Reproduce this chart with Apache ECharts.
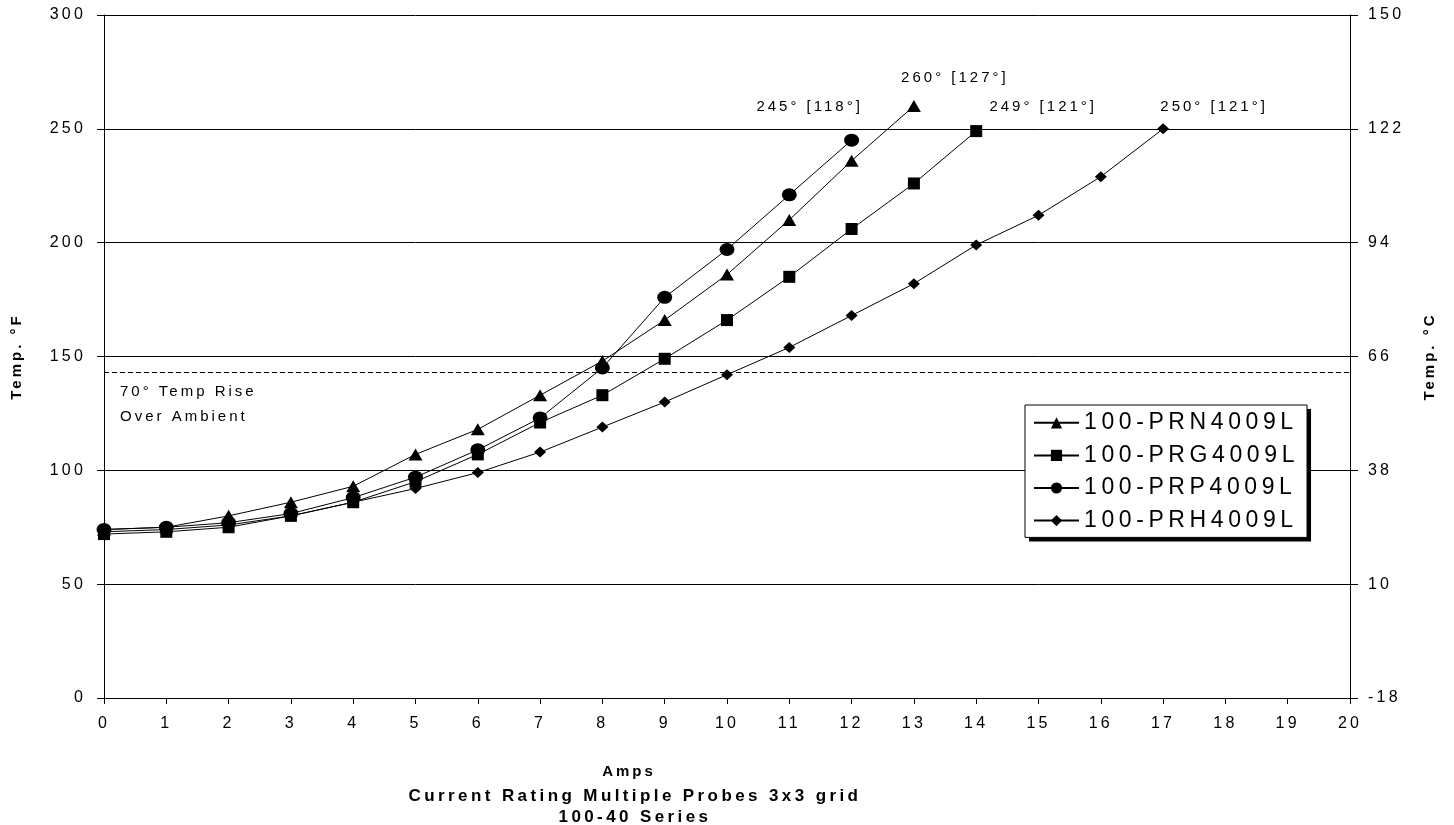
<!DOCTYPE html>
<html lang="en">
<head>
    <meta charset="UTF-8">
    <title>Current Rating Multiple Probes 3x3 grid</title>
    <script src="https://cdn.jsdelivr.net/npm/echarts@6/dist/echarts.min.js"></script>
    <style>html, body { margin: 0; background: #fff; }</style>
</head>
<body>
    <div id="main" style="width: 1454px;height:825px;"></div>
    <script type="text/javascript">
        // x values (Amps)
        var amps = [0, 1, 2, 3, 4, 5, 6, 7, 8, 9, 10, 11, 12, 13, 14, 15, 16, 17];
        // temperatures in °F
        var prn = [74, 75, 80, 86, 93, 107, 118, 133, 148, 166, 186, 210, 236, 260];
        var prg = [72, 73, 75, 80, 86, 95, 107, 121, 133, 149, 166, 185, 206, 226, 249];
        var prp = [74, 75, 77, 81, 88, 97, 109, 123, 145, 176, 197, 221, 245];
        var prh = [73, 74, 76, 80, 86, 92, 99, 108, 119, 130, 142, 154, 168, 182, 199, 212, 229, 250];
        var names = ['100-PRN4009L', '100-PRG4009L', '100-PRP4009L', '100-PRH4009L'];
        // right axis labels (°C) for the °F ticks 0..300
        var celsiusTicks = ['-18', '10', '38', '66', '94', '122', '150'];
        var riseLine = 143;

        var font = 'Liberation Sans, Arial, sans-serif';

        // the original has wide letter spacing on all its text
        var proto = CanvasRenderingContext2D.prototype;
        var fillText0 = proto.fillText, measureText0 = proto.measureText;
        function spacing(ctx) {
            var m = /(\d+(\.\d+)?)px/.exec(ctx.font);
            ctx.letterSpacing = (m ? m[1] * 0.2 : 2) + 'px';
        }
        proto.fillText = function () { spacing(this); return fillText0.apply(this, arguments); };
        proto.measureText = function () { spacing(this); return measureText0.apply(this, arguments); };

        function lastLabel(p) {
            var f = p.value[1];
            return f + '° [' + Math.round((f - 32) * 5 / 9) + '°]';
        }

        function probe(name, vals, symbol, size, offset) {
            var data = vals.map(function (v, i) { return [amps[i], v]; });
            data[data.length - 1] = {
                value: data[data.length - 1],
                label: { show: true, position: 'inside', offset: offset, formatter: lastLabel,
                    color: '#000', fontSize: 15, fontFamily: font }
            };
            return {
                name: name,
                type: 'line',
                data: data,
                symbol: symbol,
                symbolSize: size,
                showAllSymbol: true,
                lineStyle: { color: '#000', width: 1 },
                itemStyle: { color: '#000' },
                label: { show: false },
                emphasis: { disabled: true }
            };
        }

        var myChart = echarts.init(document.getElementById('main'));

        var series = [
            probe(names[0], prn, 'triangle', [14, 12], [41, -28]),
            probe(names[1], prg, 'rect', [12, 12], [67, -24]),
            probe(names[2], prp, 'circle', [15, 13], [-42, -33]),
            probe(names[3], prh, 'diamond', [12, 11], [51, -22])
        ];
        series[0].markLine = {
            silent: true,
            symbol: ['none', 'none'],
            lineStyle: { color: '#000', type: [5, 3], width: 1 },
            label: {
                show: true, position: 'insideStartBottom', distance: [16, 7],
                formatter: '70° Temp Rise\nOver Ambient',
                color: '#000', fontSize: 15, lineHeight: 25, fontFamily: font
            },
            data: [{ yAxis: riseLine }]
        };

        // legend box: first one gives the white fill and the hard shadow,
        // second one only draws the border on top (avoids a shadowed stroke)
        var legendBase = {
            orient: 'vertical',
            left: 1025,
            top: 405,
            itemWidth: 45,
            itemHeight: 14,
            itemGap: 5,
            padding: [4, 8, 3, 8],
            borderRadius: 0,
            textStyle: { fontSize: 23, color: '#000', fontFamily: font },
            data: names
        };
        var legendFill = echarts.util.merge({
            backgroundColor: '#fff',
            borderWidth: 0,
            shadowColor: '#000',
            shadowBlur: 0,
            shadowOffsetX: 4,
            shadowOffsetY: 4
        }, legendBase);
        var legendBorder = echarts.util.merge({
            backgroundColor: 'transparent',
            borderColor: '#000',
            borderWidth: 1,
            itemStyle: { opacity: 0 },
            lineStyle: { opacity: 0 }
        }, legendBase);
        legendBorder.textStyle = { fontSize: 23, color: 'rgba(0,0,0,0)', fontFamily: font };

        var option = {
            animation: false,
            textStyle: { fontFamily: font, color: '#000' },
            title: {
                text: 'Current Rating Multiple Probes 3x3 grid\n100-40 Series',
                left: 630,
                textAlign: 'center',
                top: 781,
                textStyle: { fontSize: 17, fontWeight: 'bold', lineHeight: 21, color: '#000', fontFamily: font }
            },
            legend: [legendFill, legendBorder],
            grid: { left: 104, right: 104, top: 15, bottom: 127, outerBoundsMode: 'none' },
            xAxis: {
                type: 'value',
                min: 0,
                max: 20,
                interval: 1,
                name: 'Amps',
                nameLocation: 'middle',
                nameGap: 65,
                nameTextStyle: { fontWeight: 'bold', fontSize: 15, color: '#000', padding: [0, 196, 0, 0] },
                axisLine: { lineStyle: { color: '#000', width: 1 } },
                axisTick: { length: 6, lineStyle: { color: '#000' } },
                axisLabel: { color: '#000', fontSize: 16, margin: 16 },
                splitLine: { show: false }
            },
            yAxis: [{
                type: 'value',
                position: 'left',
                min: 0,
                max: 300,
                interval: 50,
                name: 'Temp. °F',
                nameLocation: 'middle',
                nameGap: 78,
                nameRotate: 90,
                nameTextStyle: { fontWeight: 'bold', fontSize: 15, color: '#000' },
                axisLine: { show: true, lineStyle: { color: '#000', width: 1 } },
                axisTick: { show: true, length: 7, lineStyle: { color: '#000' } },
                axisLabel: { color: '#000', fontSize: 16, margin: 18 },
                splitLine: { show: true, lineStyle: { color: '#000', width: 1 } }
            }, {
                type: 'value',
                position: 'right',
                min: 0,
                max: 300,
                interval: 50,
                name: 'Temp. °C',
                nameLocation: 'middle',
                nameGap: 71,
                nameRotate: 90,
                nameTextStyle: { fontWeight: 'bold', fontSize: 15, color: '#000' },
                axisLine: { show: true, lineStyle: { color: '#000', width: 1 } },
                axisTick: { show: true, length: 8, lineStyle: { color: '#000' } },
                axisLabel: {
                    color: '#000', fontSize: 16, margin: 18,
                    formatter: function (v) { return celsiusTicks[v / 50]; }
                },
                splitLine: { show: false }
            }],
            series: series
        };

        myChart.setOption(option);
    </script>
</body>
</html>
